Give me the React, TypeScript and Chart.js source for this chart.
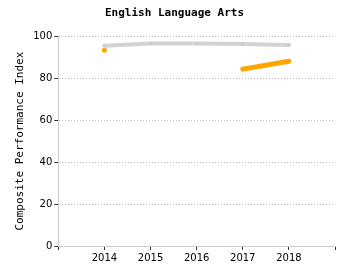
import React, { useEffect, useRef } from "react";
import { Chart, registerables } from "chart.js";

Chart.register(...registerables);

const years = ["", "2014", "2015", "2016", "2017", "2018", ""];
const stateValues = [null, 95.5, 96.5, 96.5, 96.3, 95.8, null];
const schoolValues = [null, 93.3, null, null, 84.3, 88.1, null];
const yTicks = [0, 20, 40, 60, 80, 100];

export default function App() {
  const ref = useRef<HTMLCanvasElement | null>(null);
  useEffect(() => {
    const ctx = ref.current!;
    const chart = new Chart(ctx, {
      type: "line",
      data: {
        labels: years,
        datasets: [
          {
            label: "State",
            data: stateValues,
            borderColor: "#d3d3d3",
            backgroundColor: "#d3d3d3",
            borderWidth: 4,
            borderCapStyle: "round",
            pointStyle: "rect",
            pointRadius: 1.5,
            pointBorderWidth: 1,
            pointBorderColor: "#c8c8c8",
            pointBackgroundColor: "#d3d3d3",
            spanGaps: false,
          },
          {
            label: "School",
            data: schoolValues,
            borderColor: "#ffa500",
            backgroundColor: "#ffa500",
            borderWidth: 5,
            borderCapStyle: "round",
            pointStyle: "rect",
            pointRadius: 1.5,
            pointBorderWidth: 1,
            pointBorderColor: "#ffa500",
            pointBackgroundColor: "#ffa500",
            spanGaps: false,
          },
        ],
      },
      options: {
        animation: false,
        responsive: true,
        maintainAspectRatio: false,
        layout: { padding: { left: 14, right: 15, top: 0, bottom: 14 } },
        plugins: {
          legend: { display: false },
          tooltip: { enabled: false },
          title: {
            display: true,
            text: "English Language Arts",
            color: "#000",
            font: { family: "DejaVu Sans Mono", size: 11, weight: "bold" },
            padding: { top: 7, bottom: 16 },
          },
        },
        scales: {
          x: {
            type: "category",
            offset: false,
            grid: {
              drawOnChartArea: false,
              tickLength: 4,
              tickColor: "#333",
            },
            border: { color: "#ccc" },
            ticks: {
              color: "#000",
              font: { family: "DejaVu Sans", size: 10 },
              padding: 2,
              maxRotation: 0,
              autoSkip: false,
            },
          },
          y: {
            min: 0,
            max: 100,
            afterBuildTicks: (axis: any) => {
              axis.ticks = yTicks.map((v) => ({ value: v }));
            },
            grid: {
              color: "#bbb",
              tickBorderDash: [],
              tickColor: "#333",
              tickLength: 4,
            },
            border: { color: "#ccc", dash: [1, 2] },
            ticks: {
              color: "#000",
              font: { family: "DejaVu Sans", size: 10 },
              padding: 2,
            },
            title: {
              display: true,
              text: "Composite Performance Index",
              color: "#000",
              font: { family: "DejaVu Sans Mono", size: 11 },
              padding: { top: 0, bottom: 4 },
            },
          },
        },
      },
    });
    return () => chart.destroy();
  }, []);
  return (
    <div style={{ position: "fixed", left: 0, top: 0, width: 350, height: 280 }}>
      <canvas ref={ref} />
    </div>
  );
}
